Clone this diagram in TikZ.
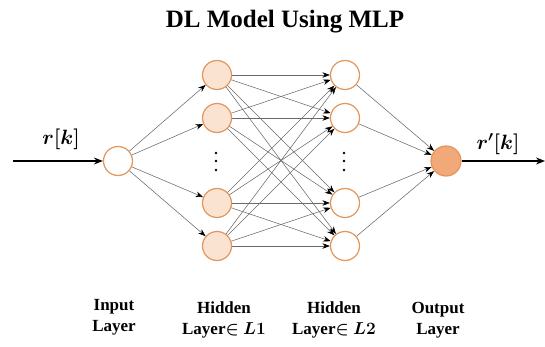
\documentclass[tikz,border=0pt]{standalone}
\usepackage{amsmath}
\usepackage{fontspec}
\setmainfont{Liberation Serif}
\usetikzlibrary{arrows.meta}
\definecolor{nodeborder}{HTML}{E3955A}
\definecolor{hidfill}{HTML}{FBE3D2}
\definecolor{outfill}{HTML}{F2A97A}
\definecolor{edgegray}{HTML}{6A6A6A}
\newcommand{\rk}{$\boldsymbol{r[k]}$}
\newcommand{\rpk}{$\boldsymbol{r'[k]}$}
\newcommand{\lone}{Layer$\boldsymbol{\in}$ $\boldsymbol{L1}$}
\newcommand{\ltwo}{Layer$\boldsymbol{\in}$ $\boldsymbol{L2}$}
\begin{document}
\begin{tikzpicture}[x=1pt,y=-1pt,
  neuron/.style={circle,draw=nodeborder,line width=1.2pt,minimum size=29pt,inner sep=0pt},
  conn/.style={draw=edgegray,line width=0.55pt,-{Stealth[length=7.5pt,width=5.5pt,black]}},
  lbl/.style={font=\bfseries\fontsize{17}{21}\selectfont,align=center},
  mlbl/.style={font=\fontsize{21}{21}\selectfont},
  vdot/.style={circle,fill=black,inner sep=0pt,minimum size=2.8pt},
  mainarrow/.style={draw=black,line width=1.2pt,-{Stealth[length=9pt,width=7pt]}}]
\useasboundingbox (0,0) rectangle (545,347);
\node[font=\bfseries\fontsize{25}{27}\selectfont] (title) at (285,22) {DL Model Using MLP};
% input
\node[neuron,fill=white] (in) at (118,161) {};
% hidden 1
\foreach \i/\y in {1/75,2/118,3/203,4/246}{
  \node[neuron,fill=hidfill] (a\i) at (217,\y) {};
}
% hidden 2
\foreach \i/\y in {1/75,2/118,3/203,4/246}{
  \node[neuron,fill=white] (b\i) at (345,\y) {};
}
% output
\node[neuron,fill=outfill,minimum size=30pt] (out) at (446,161) {};
% dots
\foreach \k/\y in {1/153,2/161,3/170}{
  \node[vdot] (da\k) at (216,\y) {};
  \node[vdot] (db\k) at (344,\y) {};
}
% edges
\foreach \i in {1,2,3,4}{
  \draw[conn] (in) -- (a\i);
  \draw[conn] (b\i) -- (out);
  \foreach \j in {1,2,3,4}{
    \draw[conn] (a\i) -- (b\j);
  }
}
\coordinate (start) at (13,161);
\coordinate (endp) at (545,161);
\draw[mainarrow] (start) -- (in);
\draw[mainarrow] (out) -- (endp);
\node[mlbl] (rklabel) at (61,139) {\rk};
\node[mlbl] (rpklabel) at (498,144) {\rpk};
% labels
\node[lbl] (l1) at (114,317) {Input\\Layer};
\node[lbl] (l2) at (224,320) {Hidden\\\lone};
\node[lbl] (l3) at (334,320) {Hidden\\\ltwo};
\node[lbl] (l4) at (438,320) {Output\\Layer};
\end{tikzpicture}
\end{document}
